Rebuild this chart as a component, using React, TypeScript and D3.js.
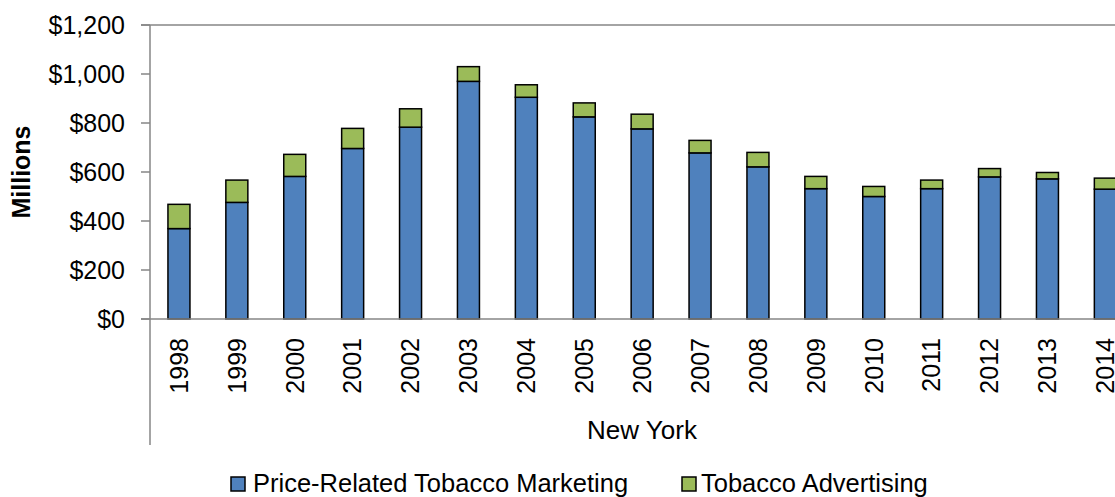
import React from "react";
import * as d3 from "d3";

const years = ["1998","1999","2000","2001","2002","2003","2004","2005","2006","2007","2008","2009","2010","2011","2012","2013","2014"];
const priceRelated = [369, 476, 582, 696, 783, 970, 905, 825, 776, 678, 621, 532, 500, 532, 580, 572, 530];
const advertising = [99, 91, 90, 82, 75, 60, 51, 57, 60, 51, 59, 50, 41, 35, 34, 26, 45];
const yTicks = [0, 200, 400, 600, 800, 1000, 1200];
const seriesNames = ["Price-Related Tobacco Marketing", "Tobacco Advertising"];
const seriesColors = ["#4F81BD", "#9BBB59"];

const W = 1115, H = 497;
const FONT = "'Liberation Sans', Arial, sans-serif";
const AXIS = "#868686";

export default function App() {
  const x = d3.scaleBand<string>().domain(years).range([150, 150 + 17 * 57.9]).paddingInner(0.62).paddingOuter(0.31);
  const y = d3.scaleLinear().domain([0, 1200]).range([319, 25]);
  const fmt = (v: number) => "$" + d3.format(",")(v);
  const rows = years.map((yr, i) => ({ yr, a: priceRelated[i], b: advertising[i] }));
  const stack = d3.stack<any>().keys(["a", "b"])(rows as any);

  return (
    <svg width={W} height={H} style={{ position: "absolute", left: 0, top: 0, background: "#fff" }} fontFamily={FONT}>
      {/* top border line */}
      <line x1={141} x2={W} y1={y(1200)} y2={y(1200)} stroke={AXIS} strokeWidth={1.5} />
      {/* y axis */}
      <line x1={150} x2={150} y1={y(1200)} y2={445} stroke={AXIS} strokeWidth={1.5} />
      {yTicks.map((t) => (
        <g key={t}>
          <line x1={141} x2={150} y1={y(t)} y2={y(t)} stroke={AXIS} strokeWidth={1.5} />
          <text x={125} y={y(t)} dy="0.35em" textAnchor="end" fontSize={25} fill="#000">{fmt(t)}</text>
        </g>
      ))}
      <text transform={`translate(30,${(y(0) + y(1200)) / 2}) rotate(-90)`} textAnchor="middle" fontSize={25} fontWeight="bold" fill="#000">Millions</text>
      {/* bars */}
      {stack.map((s, si) => (
        <g key={si}>
          {s.map((d: any, i: number) => (
            <rect key={i} x={x(years[i])!} width={x.bandwidth()} y={y(d[1])} height={y(d[0]) - y(d[1])}
              fill={seriesColors[si]} stroke="#000" strokeWidth={1.5} />
          ))}
        </g>
      ))}
      {/* x axis */}
      <line x1={141} x2={W} y1={y(0)} y2={y(0)} stroke={AXIS} strokeWidth={1.5} />
      {years.map((yr) => (
        <text key={yr} transform={`translate(${x(yr)! + x.bandwidth() / 2},338) rotate(-90)`} dy="0.35em" textAnchor="end" fontSize={25} fill="#000">{yr}</text>
      ))}
      <text x={642} y={439} textAnchor="middle" fontSize={26} fill="#000">New York</text>
      {/* legend */}
      <rect x={231} y={477} width={14} height={14} fill={seriesColors[0]} stroke="#000" strokeWidth={1.5} />
      <text x={253} y={492} fontSize={25.5} fill="#000">{seriesNames[0]}</text>
      <rect x={682} y={477} width={14} height={14} fill={seriesColors[1]} stroke="#000" strokeWidth={1.5} />
      <text x={701} y={492} fontSize={25.5} fill="#000">{seriesNames[1]}</text>
    </svg>
  );
}
